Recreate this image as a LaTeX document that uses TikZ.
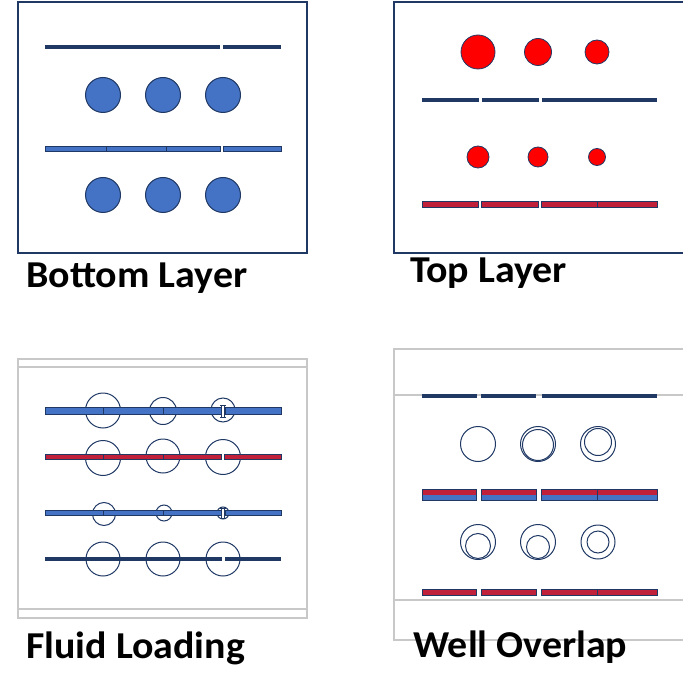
\documentclass[tikz,border=0pt]{standalone}
\usepackage{fontspec}
\setmainfont{Carlito}
\definecolor{navy}{HTML}{1F3864}
\definecolor{mblue}{HTML}{4472C4}
\definecolor{bred}{HTML}{FF0000}
\definecolor{cred}{HTML}{C0203A}
\definecolor{lgray}{HTML}{C8C8C8}
\newcommand\barseg[5]{\path[fill=#1, draw=navy, line width=0.9pt] (#2,#4-#5) rectangle (#3,#4+#5);}
\newcommand\navyseg[4]{\fill[navy] (#1,#3-#4) rectangle (#2,#3+#4);}
\newcommand\dualseg[4]{%
  \fill[cred] (#1,#3-#4) rectangle (#2,#3);
  \fill[mblue] (#1,#3) rectangle (#2,#3+#4);
  \draw[navy, line width=0.9pt] (#1,#3-#4) rectangle (#2,#3+#4);}
\newcommand\ibar[3]{% x, y, half height
  \path[fill=white, draw=navy, line width=0.8pt] (#1-1.5,#2-#3) rectangle (#1+1.5,#2+#3);
  \draw[navy, line width=0.8pt] (#1-3,#2-#3) -- (#1+3,#2-#3) (#1-3,#2+#3) -- (#1+3,#2+#3);}
\newcommand\widelbl[1]{\scalebox{1.05}[1]{#1}}
\begin{document}
\begin{tikzpicture}[x=1pt, y=-1pt,
  bdot/.style={circle, draw=navy, fill=mblue, line width=1pt, inner sep=0pt, minimum size=#1},
  rdot/.style={circle, draw=navy, fill=bred, line width=0.8pt, inner sep=0pt, minimum size=#1},
  ring/.style={circle, draw=navy, line width=1pt, inner sep=0pt, minimum size=#1},
  frame/.style={draw=navy, line width=1.6pt},
  gframe/.style={draw=lgray, line width=1.4pt},
  lbl/.style={anchor=base west, inner sep=0pt, font=\fontsize{38}{38}\selectfont\bfseries, text=black}]
\useasboundingbox (0,0) rectangle (682,700);

% ---------- Bottom Layer ----------
\draw[frame] (18,2) rectangle (307,253);
\navyseg{45}{220}{47}{1.8}
\navyseg{223}{281}{47}{1.8}
\node[bdot=35pt] (b1) at (103,95) {};
\node[bdot=35pt] (b2) at (163,95) {};
\node[bdot=35pt] (b3) at (223,95) {};
\barseg{mblue}{45}{106}{149}{2.8}
\barseg{mblue}{106}{166}{149}{2.8}
\barseg{mblue}{166}{220}{149}{2.8}
\barseg{mblue}{223}{281}{149}{2.8}
\node[bdot=35pt] (b4) at (103,195) {};
\node[bdot=35pt] (b5) at (163,195) {};
\node[bdot=35pt] (b6) at (223,195) {};
\node[lbl] (lb) at (26,287) {\widelbl{Bottom Layer}};

% ---------- Top Layer ----------
\draw[frame] (684,2) -- (394,2) -- (394,253) -- (684,253);
\node[rdot=34pt] (t1) at (478,52) {};
\node[rdot=27pt] (t2) at (538,52) {};
\node[rdot=24pt] (t3) at (597,52) {};
\navyseg{422}{478.5}{100}{2.2}
\navyseg{481.5}{538.5}{100}{2.2}
\navyseg{541.5}{657}{100}{2.2}
\node[rdot=22pt] (t4) at (478,157) {};
\node[rdot=20pt] (t5) at (538,157) {};
\node[rdot=17pt] (t6) at (597,157) {};
\barseg{cred}{422}{478.5}{204}{3}
\barseg{cred}{481.5}{538.5}{204}{3}
\barseg{cred}{541.5}{597}{204}{3}
\barseg{cred}{597}{657}{204}{3}
\node[lbl] (lt) at (410,282) {\widelbl{Top Layer}};

% ---------- Fluid Loading ----------
\draw[gframe] (18,359) rectangle (307,618);
\draw[gframe] (18,367) -- (307,367) (18,609) -- (307,609);
% row 1
\node[ring=35pt] (f1) at (103,410.5) {};
\node[ring=27pt] (f2) at (163,411) {};
\node[ring=24pt] (f3) at (223,410) {};
\barseg{mblue}{45}{103}{411}{3.8}
\barseg{mblue}{103}{163}{411}{3.8}
\barseg{mblue}{163}{221}{411}{3.8}
\barseg{mblue}{225}{281}{411}{3.8}
\ibar{223}{411}{6}
% row 2
\node[ring=35pt] (f4) at (103,458) {};
\node[ring=34pt] (f5) at (163,456) {};
\node[ring=35pt] (f6) at (223,457) {};
\barseg{cred}{45}{103}{457}{2.8}
\barseg{cred}{103}{163}{457}{2.8}
\barseg{cred}{163}{221.5}{457}{2.8}
\barseg{cred}{224.5}{281}{457}{2.8}
% row 3
\node[ring=23pt] (f7) at (104,514) {};
\node[ring=16pt] (f8) at (164,513) {};
\node[ring=12pt] (f9) at (223,513) {};
\barseg{mblue}{45}{103}{513}{2.8}
\barseg{mblue}{103}{163}{513}{2.8}
\barseg{mblue}{163}{221}{513}{2.8}
\barseg{mblue}{225}{281}{513}{2.8}
\ibar{223}{513}{5}
% row 4
\node[ring=34pt] (f10) at (103,559) {};
\node[ring=34pt] (f11) at (163,559) {};
\node[ring=34pt] (f12) at (223,559) {};
\navyseg{45}{221.5}{559}{2}
\navyseg{224.5}{281}{559}{2}
\node[lbl] (lf) at (26,658) {\widelbl{Fluid Loading}};

% ---------- Well Overlap ----------
\draw[gframe] (684,349) -- (394,349) -- (394,640) -- (684,640);
\draw[gframe] (394,395) -- (684,395) (394,600) -- (684,600);
\navyseg{422}{476.5}{396}{2}
\navyseg{481}{536}{396}{2}
\navyseg{541.5}{657}{396}{2}
\node[ring=35pt] (w1) at (478,444) {};
\node[ring=35pt] (w2) at (538,444) {};
\node[ring=31pt] (w2i) at (538,445) {};
\node[ring=35pt] (w3) at (598,444) {};
\node[ring=27pt] (w3i) at (598,442) {};
\dualseg{422}{476.5}{495}{5.5}
\dualseg{481}{536}{495}{5.5}
\dualseg{541.5}{597}{495}{5.5}
\dualseg{597}{657}{495}{5.5}
\node[ring=35pt] (w4) at (478,542) {};
\node[ring=25pt] (w4i) at (478,546) {};
\node[ring=35pt] (w5) at (538,542) {};
\node[ring=23pt] (w5i) at (538,547) {};
\node[ring=34pt] (w6) at (598,542) {};
\node[ring=22pt] (w6i) at (598,542) {};
\barseg{cred}{422}{476.5}{592}{3}
\barseg{cred}{481}{536}{592}{3}
\barseg{cred}{541.5}{597}{592}{3}
\barseg{cred}{597}{657}{592}{3}
\node[lbl] (lw) at (413,657) {\widelbl{Well Overlap}};
\end{tikzpicture}
\end{document}
